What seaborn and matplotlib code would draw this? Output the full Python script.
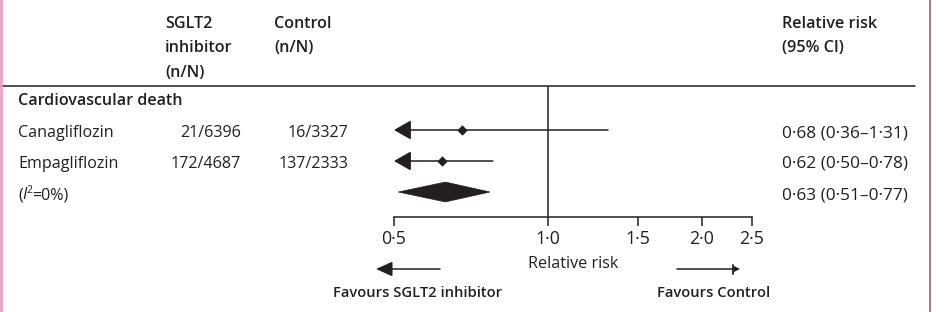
import numpy as np
import pandas as pd
import matplotlib
matplotlib.use("Agg")
import matplotlib.pyplot as plt
import seaborn as sns
from matplotlib.lines import Line2D
from matplotlib.patches import Polygon, FancyArrowPatch
from matplotlib.ticker import FixedLocator, FixedFormatter, NullLocator

# ---------------- data ----------------
studies = ["Canagliflozin", "Empagliflozin"]
sglt2_events = ["21/6396", "172/4687"]
control_events = ["16/3327", "137/2333"]
rr = [0.68, 0.62]
ci_low = [0.36, 0.50]
ci_high = [1.31, 0.78]
pooled_label_parts = ["(", "I", "2", "=0%)"]
pooled_rr = 0.63
pooled_low = 0.51
pooled_high = 0.77
axis_ticks = [0.5, 1.0, 1.5, 2.0, 2.5]
axis_tick_labels = ["0·5", "1·0", "1·5", "2·0", "2·5"]
outcome = "Cardiovascular death"

# ---------------- style ----------------
sns.set_theme(style="white")
plt.rcParams["font.family"] = ["Open Sans", "DejaVu Sans"]
INK = "#231f20"
FS = 11.6

W, H = 932, 312
fig = plt.figure(figsize=(W / 100, H / 100), dpi=100)
fig.patch.set_facecolor("white")


def fx(x):
    return x / W


def fy(y):
    return 1 - y / H


# main axes: log x scale, rows on y
ax = fig.add_axes([0, 0, 1, 1])
ax.set_facecolor("none")
ref_px, per_log2 = 548, 154
ax.set_xscale("log")
ax.set_xlim(2 ** (-ref_px / per_log2), 2 ** ((W - ref_px) / per_log2))
row0_px, row_step = 99, 31
ax.set_ylim((H - row0_px) / row_step, -row0_px / row_step)
ax.axis("off")

rows = np.arange(1, len(studies) + 1)
pooled_row = len(studies) + 1
axis_min = axis_ticks[0]
axis_row = (217 - row0_px) / row_step
top_row = (86 - row0_px) / row_step

df = pd.DataFrame({"study": studies, "rr": rr, "lo": ci_low, "hi": ci_high, "row": rows})

# reference line at 1
ax.vlines(1.0, top_row, axis_row, color=INK, lw=1.1)

# confidence intervals
for _, r in df.iterrows():
    if r["lo"] <= axis_min:
        ax.annotate("", xy=(axis_min, r["row"]), xytext=(r["hi"], r["row"]),
                    arrowprops=dict(arrowstyle="-|>,head_length=1.05,head_width=0.6",
                                    mutation_scale=10, color=INK, lw=1.1,
                                    shrinkA=0, shrinkB=0))
    else:
        ax.hlines(r["row"], r["lo"], r["hi"], color=INK, lw=1.1)

# point estimates
sns.scatterplot(data=df, x="rr", y="row", marker="D", s=28, color=INK,
                linewidth=0, ax=ax, legend=False, zorder=5)

# pooled diamond
h = 0.32
ax.add_patch(Polygon([(pooled_low, pooled_row), (pooled_rr, pooled_row - h),
                      (pooled_high, pooled_row), (pooled_rr, pooled_row + h)],
                     closed=True, facecolor=INK, edgecolor=INK, lw=0.5))

# bottom axis
ax2 = fig.add_axes([0, fy(217), 1, 0.001])
ax2.set_facecolor("none")
ax2.set_xscale("log")
ax2.set_xlim(ax.get_xlim())
for s in ["top", "left", "right"]:
    ax2.spines[s].set_visible(False)
ax2.spines["bottom"].set_bounds(axis_ticks[0], axis_ticks[-1])
ax2.spines["bottom"].set_color(INK)
ax2.spines["bottom"].set_linewidth(1.1)
ax2.xaxis.set_major_locator(FixedLocator(axis_ticks))
ax2.xaxis.set_major_formatter(FixedFormatter(axis_tick_labels))
ax2.xaxis.set_minor_locator(NullLocator())
ax2.set_yticks([])
ax2.tick_params(axis="x", direction="out", length=6.8, width=1.1, color=INK,
                labelsize=12.8, labelcolor=INK, pad=2.5, bottom=True)
ax2.grid(False)

# ---------------- text ----------------
def t(x, y, s, **kw):
    kw.setdefault("fontsize", FS)
    kw.setdefault("color", INK)
    kw.setdefault("va", "baseline")
    return fig.text(fx(x), fy(y), s, **kw)

# headers
for i, line in enumerate(["SGLT2", "inhibitor", "(n/N)"]):
    t(165, 28 + 24.5 * i, line, fontweight="semibold")
for i, line in enumerate(["Control", "(n/N)"]):
    t(274, 28 + 24.5 * i, line, fontweight="semibold")
for i, line in enumerate(["Relative risk", "(95% CI)"]):
    t(782, 28 + 24.5 * i, line, fontweight="semibold")

fig.add_artist(Line2D([fx(0), fx(915)], [fy(86), fy(86)], color=INK, lw=1.1))

t(18, 105, outcome, fontweight="semibold")


def fmt(v):
    return f"{v:.2f}".replace(".", "·")


RR_FS = 12.4
for i, name in enumerate(studies):
    base = row0_px + row_step * rows[i] + 7
    t(18, base, name)
    t(241, base, sglt2_events[i], ha="right")
    t(348, base, control_events[i], ha="right")
    t(782, base, f"{fmt(rr[i])} ({fmt(ci_low[i])}–{fmt(ci_high[i])})", fontsize=RR_FS)

base = row0_px + row_step * pooled_row + 7
# "(I²=0%)" built from pieces: italic I, raised small 2
renderer = fig.canvas.get_renderer()
xcur = 18
styles = [dict(), dict(style="italic"), dict(fontsize=7.5), dict()]
offsets = [0, 0, -6, 0]
gaps = [0, -1, 0, 0]
for part, st, off, gap in zip(pooled_label_parts, styles, offsets, gaps):
    txt = t(xcur, base + off, part, **st)
    bb = txt.get_window_extent(renderer=renderer)
    xcur += bb.width + gap
t(782, base, f"{fmt(pooled_rr)} ({fmt(pooled_low)}–{fmt(pooled_high)})", fontsize=RR_FS)

t(573, 268, "Relative risk", ha="center")

# favours arrows
fig.add_artist(FancyArrowPatch(
    (fx(440), fy(269)), (fx(376), fy(269)), transform=fig.transFigure,
    arrowstyle="-|>,head_length=1.0,head_width=0.45", mutation_scale=10,
    color=INK, lw=1.1, shrinkA=0, shrinkB=0))
fig.add_artist(Line2D([fx(677), fx(733)], [fy(269), fy(269)], color=INK, lw=1.1))
fig.add_artist(Line2D([fx(733), fx(733)], [fy(264.5), fy(273.5)], color=INK, lw=1.3))
fig.add_artist(Polygon([(fx(734), fy(266)), (fx(740), fy(269)), (fx(734), fy(272))],
                       closed=True, transform=fig.transFigure, facecolor=INK, lw=0))
t(418, 297, "Favours SGLT2 inhibitor", ha="center", fontweight="semibold", fontsize=10.6)
t(657, 297, "Favours Control", fontweight="semibold", fontsize=10.6)

# page borders
fig.add_artist(Line2D([fx(1), fx(1)], [0, 1], color="#e8a2c2", lw=2))
fig.add_artist(Line2D([fx(930), fx(930)], [0, 1], color="#a8577a", lw=1.2))

fig.savefig("out.png", dpi=100, facecolor="white")
